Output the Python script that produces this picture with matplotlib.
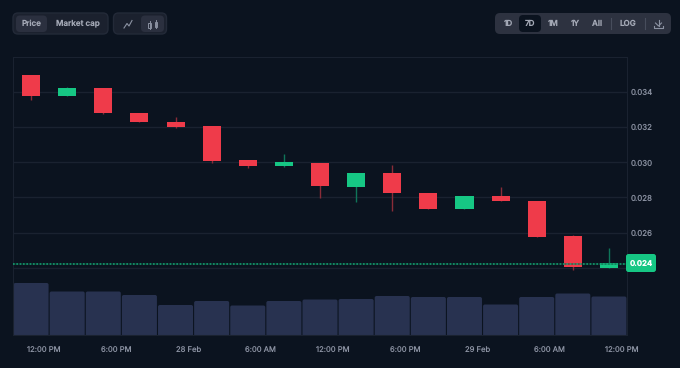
import matplotlib
matplotlib.use("Agg")
import matplotlib.pyplot as plt
from matplotlib.patches import FancyBboxPatch, Rectangle

plt.rcParams['font.family'] = ['Inter', 'DejaVu Sans']
plt.rcParams['text.hinting'] = 'no_hinting'

# candle data
opens = [0.03498, 0.03379, 0.03424, 0.03284, 0.03233, 0.03207, 0.03013, 0.02979, 0.02998,
         0.02862, 0.02941, 0.02828, 0.02734, 0.02808, 0.02779, 0.02580, 0.02400]
closes = [0.03381, 0.03427, 0.03282, 0.03230, 0.03202, 0.03010, 0.02979, 0.03000, 0.02865,
          0.02941, 0.02827, 0.02734, 0.02808, 0.02777, 0.02574, 0.02401, 0.02427]
highs = [0.03498, 0.03432, 0.03424, 0.03284, 0.03259, 0.03207, 0.03013, 0.03048, 0.02998,
         0.02941, 0.02985, 0.02828, 0.02808, 0.02859, 0.02779, 0.02585, 0.02511]
lows = [0.03359, 0.03379, 0.03276, 0.03230, 0.03197, 0.02996, 0.02968, 0.02973, 0.02795,
        0.02775, 0.02724, 0.02734, 0.02734, 0.02777, 0.02574, 0.02386, 0.02400]
volumes = [52, 43.5, 43.5, 40, 30, 34, 29.5, 34, 35.5, 36, 39, 38, 38, 30.5, 38, 41.5, 38.5]
last_price = 0.02423

price_ticks = [0.024, 0.026, 0.028, 0.030, 0.032, 0.034]
# 0.024 has no axis label, the green price tag sits there
price_labels = ['', '0.026', '0.028', '0.030', '0.032', '0.034']
time_pos = [0.35, 2.35, 4.35, 6.35, 8.35, 10.35, 12.35, 14.35, 16.35]
time_labels = ['12:00 PM', '6:00 PM', '28 Feb', '6:00 AM', '12:00 PM', '6:00 PM', '29 Feb', '6:00 AM', '12:00 PM']
range_labels = ['1D', '7D', '1M', '1Y', 'All', 'LOG']

BG = '#0b131f'
GRID = '#1a2230'
RED = '#ef3b4a'
GREEN = '#16c784'
RED_WICK = '#8a2c38'
GREEN_WICK = '#0f7559'
BAR = '#283250'
TEXT = '#8b92a2'

W, H = 680, 368
fig = plt.figure(figsize=(W / 100, H / 100), dpi=100, facecolor=BG)


def box(x0, y0, x1, y1):
    return [x0 / W, 1 - y1 / H, (x1 - x0) / W, (y1 - y0) / H]


# price panel, 17.525 px per 0.001
ax = fig.add_axes(box(13, 57.3, 627, 272.8), facecolor='none')
ax.set_xlim(-0.5, 16.5)
ax.set_ylim(0.0237, 0.036)
ax.set_yticks(price_ticks)
ax.set_yticklabels(price_labels)
ax.set_xticks([])
ax.tick_params(axis='y', length=0, right=True, left=False, labelright=True, labelleft=False,
               labelcolor=TEXT, labelsize=5.7, pad=2.8)
ax.grid(axis='y', color=GRID, linewidth=1)
ax.set_axisbelow(True)
for side in ['left', 'top', 'right']:
    ax.spines[side].set_color(GRID)
ax.spines['bottom'].set_visible(False)

for i in range(len(opens)):
    up = closes[i] >= opens[i]
    ax.plot([i, i], [lows[i], highs[i]], color=GREEN_WICK if up else RED_WICK, linewidth=1, zorder=3,
            solid_capstyle='butt')
    ax.bar(i, abs(closes[i] - opens[i]), bottom=min(opens[i], closes[i]), width=0.5,
           color=GREEN if up else RED, zorder=4)
ax.axhline(last_price, color='#0c4a3e', linewidth=1.2, alpha=0.6, zorder=5)
ax.axhline(last_price, color=GREEN, linewidth=1.2, linestyle=(0, (1, 1)), alpha=0.7, zorder=5)

# volume panel
ax_vol = fig.add_axes(box(13, 267.5, 627, 335), facecolor='none')
ax_vol.set_xlim(-0.5, 16.5)
ax_vol.set_ylim(0, 67.5)
ax_vol.set_yticks([])
ax_vol.set_xticks(time_pos)
ax_vol.set_xticklabels(time_labels)
ax_vol.tick_params(axis='x', length=0, labelcolor=TEXT, labelsize=5.5, pad=8.5)
for side in ['left', 'right', 'bottom']:
    ax_vol.spines[side].set_color(GRID)
ax_vol.spines['top'].set_visible(False)
# 36.1 px per candle, 1 px per volume unit
for i, v in enumerate(volumes):
    ax_vol.add_patch(FancyBboxPatch((i - 0.485, -5), 0.97, v + 5, boxstyle='round,pad=0,rounding_size=0.05',
                                    mutation_aspect=1 / 0.0277, facecolor=BAR, edgecolor='none', zorder=2))

# toolbar and price tag drawn on a pixel overlay
ui = fig.add_axes([0, 0, 1, 1], facecolor='none')
ui.set_xlim(0, W)
ui.set_ylim(H, 0)
ui.axis('off')


def pill(x0, y0, x1, y1, fc, ec='none', r=4):
    ui.add_patch(FancyBboxPatch((x0, y0), x1 - x0, y1 - y0, boxstyle='round,pad=0,rounding_size=%g' % r,
                                facecolor=fc, edgecolor=ec, linewidth=1))


pill(13, 13, 108, 34, '#1b212e', '#232a38', 5)
pill(16, 15.5, 47, 32, '#2b303f')
ui.text(31.5, 23.6, 'Price', color='#a4a9b6', fontsize=5.8, fontweight='semibold', ha='center', va='center')
ui.text(77.5, 23.6, 'Market cap', color='#a4a9b6', fontsize=5.8, fontweight='semibold', ha='center', va='center')

pill(113.5, 13, 166.5, 34, '#1b212e', '#232a38', 5)
pill(141, 15.5, 164, 32, '#2b303f')
ui.plot([124, 127, 129, 132], [28, 23.5, 26, 20.5], color='#8b92a2', linewidth=0.8)
for x, y0, y1 in [(149.5, 23, 28), (156, 22, 27)]:
    ui.plot([x, x], [y0 - 2, y1 + 1], color='#8b92a2', linewidth=0.7)
    ui.add_patch(Rectangle((x - 1.4, y0), 2.8, y1 - y0, facecolor='#2b303f', edgecolor='#8b92a2', linewidth=0.7))

pill(495, 13, 671, 34, '#2d3240', 'none', 5)
pill(519, 15, 541, 32, '#0b131f')
for x, label in zip([508, 530, 553, 575.5, 597, 628], range_labels):
    ui.text(x, 23.6, label, color='#a4a9b6', fontsize=5.8, fontweight='semibold', ha='center', va='center')
for x in [611, 644.5]:
    ui.plot([x, x], [18, 29], color='#474d5c', linewidth=0.8)
ui.plot([658.5, 658.5], [19.5, 25.5], color='#8b92a2', linewidth=0.8)
ui.plot([655.5, 658.5, 661.5], [23, 26, 23], color='#8b92a2', linewidth=0.8)
ui.plot([654, 654, 663, 663], [25.5, 28, 28, 25.5], color='#8b92a2', linewidth=0.8)

pill(626, 254, 656, 272, GREEN, 'none', 2.5)
ui.text(641, 263.4, '%.3f' % last_price, color='white', fontsize=5.6, fontweight='bold', ha='center', va='center')

fig.savefig('out.png', dpi=100, facecolor=BG)
